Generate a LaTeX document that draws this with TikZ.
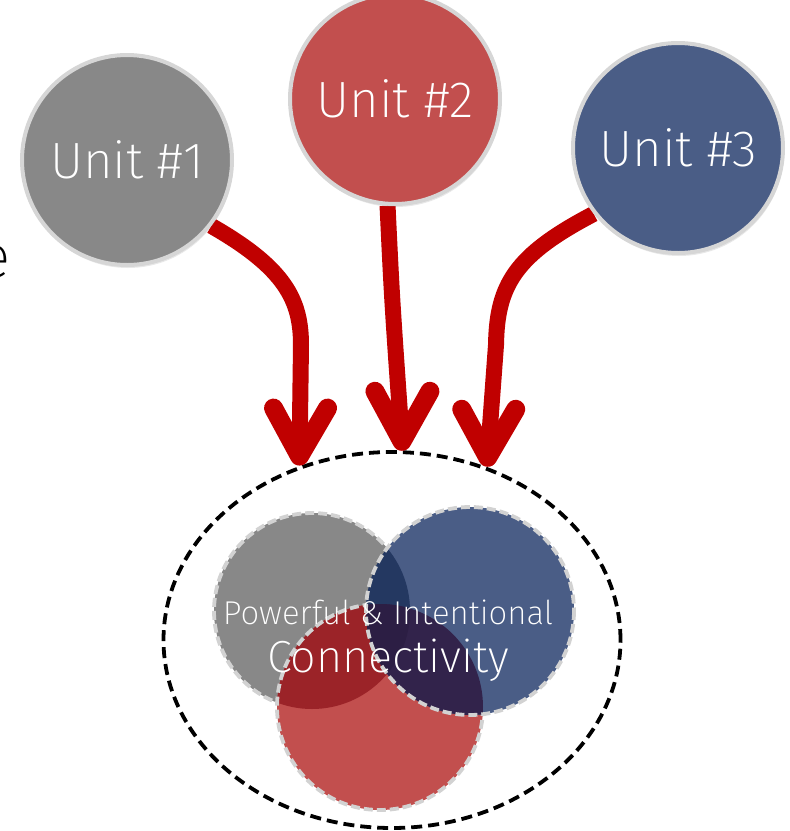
\documentclass[tikz,border=0pt]{standalone}
\usepackage{fontspec}
\setmainfont{Fira Sans ExtraLight}
\usetikzlibrary{calc,shapes.geometric,shadows}
\definecolor{ugray}{HTML}{888888}
\definecolor{ured}{HTML}{C24F4E}
\definecolor{ublue}{HTML}{4A5D86}
\definecolor{rim}{HTML}{D6D6D6}
\definecolor{arrowred}{HTML}{C00000}
\definecolor{gb}{HTML}{243861}
\definecolor{gr}{HTML}{9B2328}
\definecolor{br}{HTML}{32234B}
\definecolor{gbr}{HTML}{2C1E44}
\definecolor{vrim}{HTML}{D2D2D2}
\pgfdeclarelayer{bg}
\pgfsetlayers{bg,main}
\begin{document}
\begin{tikzpicture}[x=1pt,y=-1pt,
  unit/.style={circle,minimum size=210pt,inner sep=0pt,draw=rim,line width=4pt,
    text=white,font=\fontsize{51}{60}\selectfont,
    drop shadow={opacity=0.18,shadow xshift=1pt,shadow yshift=-3pt}},
  flow/.style={draw=arrowred,line width=16pt},
  chev/.style={draw=arrowred,line width=19pt,line cap=round,line join=round},
  venn/.style={draw=vrim,line width=3.8pt,dash pattern=on 9pt off 4pt},
  outer/.style={ellipse,minimum width=457pt,minimum height=376pt,inner sep=0pt,
    draw=black,line width=3.8pt,dash pattern=on 11pt off 6pt},
  vtext/.style={text=white,inner sep=0pt}
]
\useasboundingbox (0,0) rectangle (790,831);

% partial letter at the left edge
\node[anchor=east,inner sep=0pt,font=\fontsize{60}{72}\selectfont] (e) at (11,262) {e};

% unit circles
\node[unit,fill=ugray] (u1) at (127,160) {Unit \#1};
\node[unit,fill=ured]  (u2) at (395,99)  {Unit \#2};
\node[unit,fill=ublue] (u3) at (678,148) {Unit \#3};

% outer dashed ellipse
\node[outer] (ell) at (392,640) {};

% arrow tip vertices, just above the ellipse
\coordinate (v1) at ($(ell.118)+(0,-10)$);
\coordinate (v2) at ($(ell.87)+(0,-9)$);
\coordinate (v3) at ($(ell.61)+(0,-10)$);

% venn circles
\coordinate (cg) at (312,611);
\coordinate (cr) at (380,707);
\coordinate (cb) at (470,611);
\def\rg{98}
\def\rr{103}
\def\rb{104}

\fill[ugray] (cg) circle[radius=\rg];
\draw[venn] (cg) circle[radius=\rg];

\fill[ured] (cr) circle[radius=\rr];
\begin{scope}
  \clip (cg) circle[radius=\rg];
  \fill[gr] (cr) circle[radius=\rr];
\end{scope}
\draw[venn] (cr) circle[radius=\rr];

\fill[ublue] (cb) circle[radius=\rb];
\begin{scope}
  \clip (cb) circle[radius=\rb];
  \fill[gb] (cg) circle[radius=\rg];
  \fill[br] (cr) circle[radius=\rr];
  \clip (cg) circle[radius=\rg];
  \fill[gbr] (cr) circle[radius=\rr];
\end{scope}
\draw[venn] (cb) circle[radius=\rb];

\node[vtext,font=\fontsize{33}{39}\selectfont] (t1) at (388,612) {Powerful \& Intentional};
\node[vtext,font=\fontsize{45}{53}\selectfont] (t2) at (388,660) {Connectivity};

% arrows
\begin{pgfonlayer}{bg}
\draw[flow] (u1.-38) .. controls (285,268) and (301,300) .. (301,345) -- (v1);
\draw[flow] (u2.-94) .. controls (392,300) .. (v2);
\draw[flow] (u3.-142) .. controls (515,255) and (497,285) .. (496,345) -- (v3);
\end{pgfonlayer}
\draw[chev] ($(v1)+(-26,-48)$) -- (v1) -- ($(v1)+(28,-48)$);
\draw[chev] ($(v2)+(-27,-50)$) -- (v2) -- ($(v2)+(28,-50)$);
\draw[chev] ($(v3)+(-26,-48)$) -- (v3) -- ($(v3)+(28,-48)$);
\end{tikzpicture}
\end{document}
